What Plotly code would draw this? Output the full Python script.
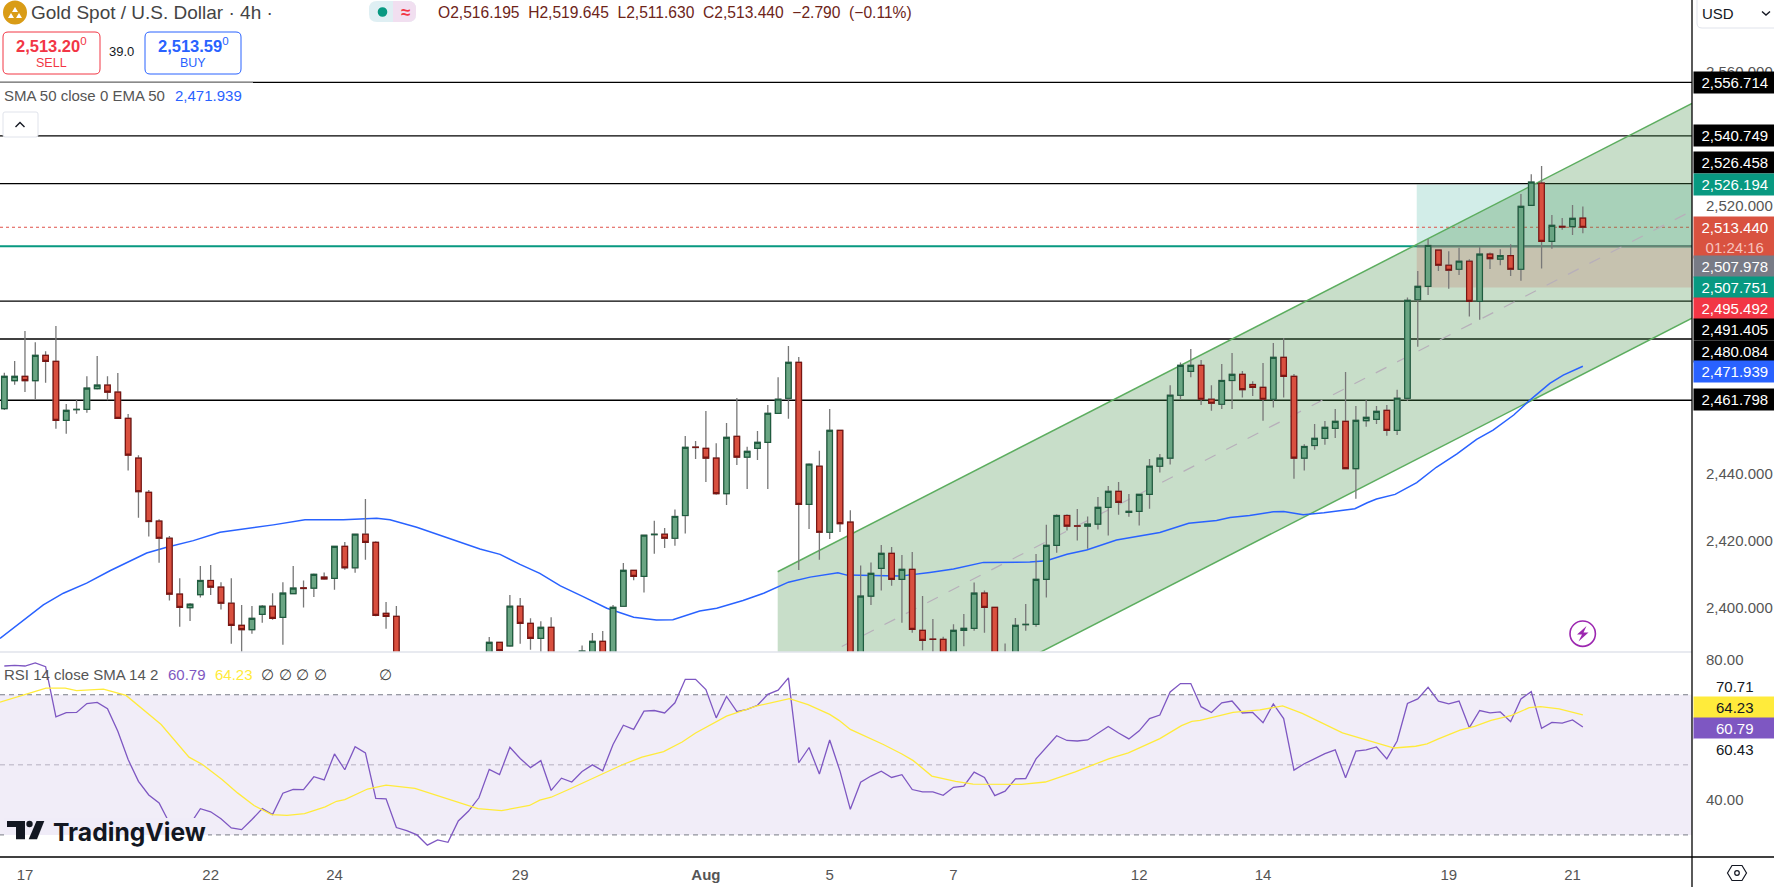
import plotly.graph_objects as go
from plotly.subplots import make_subplots

W, H = 1774, 887
FONT = "Liberation Sans"

opens = [
    2459.3, 2467.65, 2468.9, 2467.65, 2475.2, 2473.4, 2455.8, 2459.0, 2459.1, 2465.3,
    2466.3, 2464.2, 2456.4, 2444.5, 2434.3, 2425.7, 2420.6, 2403.9, 2399.9, 2403.8,
    2408.0, 2406.0, 2401.2, 2394.6, 2393.3, 2397.9, 2400.3, 2397.0, 2404.1, 2405.8,
    2405.7, 2409.0, 2408.6, 2418.2, 2411.8, 2421.8, 2419.4, 2398.2, 2397.3, 2380.0,
    2378.0, 2375.0, 2368.0, 2371.0, 2369.0, 2376.0, 2379.0, 2384.0, 2389.5, 2388.5,
    2400.3, 2395.2, 2390.7, 2394.0, 2384.0, 2380.0, 2385.5, 2383.0, 2389.8, 2384.0,
    2400.3, 2411.0, 2409.2, 2421.7, 2421.8, 2420.6, 2427.4, 2447.8, 2447.45, 2444.5,
    2433.9, 2451.0, 2444.8, 2447.45, 2449.2, 2457.9, 2462.4, 2473.1, 2430.7, 2442.1,
    2422.4, 2452.8, 2425.4, 2378.0, 2403.3, 2411.6, 2416.1, 2408.3, 2411.3, 2393.1,
    2390.5, 2390.4, 2385.0, 2393.1, 2393.7, 2404.2, 2400.0, 2378.0, 2385.0, 2394.8,
    2394.9, 2408.3, 2418.5, 2427.4, 2424.3, 2424.2, 2424.8, 2429.8, 2434.6, 2428.3,
    2428.6, 2433.7, 2442.1, 2444.5, 2463.3, 2470.4, 2472.2, 2462.1, 2460.6, 2467.7,
    2469.5, 2466.5, 2465.65, 2462.1, 2474.6, 2468.9, 2444.5, 2448.3, 2450.4, 2453.4,
    2455.5, 2441.4, 2455.7, 2456.1, 2458.8, 2452.8, 2462.4, 2491.8, 2495.8, 2506.6,
    2502.1, 2500.9, 2503.3, 2491.3, 2505.4, 2503.9, 2505.0, 2500.9, 2520.0, 2526.6,
    2509.2, 2513.7, 2513.6, 2516.195,
]
highs = [
    2470.0, 2473.5, 2482.5, 2479.1, 2476.4, 2484.0, 2460.7, 2462.1, 2469.0, 2475.0,
    2469.0, 2469.9, 2457.7, 2445.4, 2435.0, 2426.3, 2421.3, 2408.7, 2401.3, 2412.3,
    2412.6, 2407.5, 2408.7, 2400.7, 2400.4, 2400.7, 2404.2, 2407.5, 2412.3, 2408.0,
    2410.1, 2410.4, 2418.3, 2419.5, 2422.0, 2432.3, 2419.7, 2401.6, 2400.4, 2384.0,
    2381.0, 2377.0, 2373.0, 2373.0, 2378.0, 2381.0, 2385.0, 2391.1, 2389.6, 2403.7,
    2402.8, 2396.7, 2395.8, 2397.0, 2385.0, 2384.0, 2388.6, 2392.3, 2392.9, 2400.7,
    2413.2, 2411.0, 2421.5, 2425.8, 2423.7, 2429.2, 2451.1, 2449.6, 2458.6, 2449.0,
    2455.0, 2462.5, 2447.9, 2452.6, 2460.4, 2468.7, 2478.0, 2474.7, 2443.0, 2446.7,
    2459.2, 2452.8, 2429.0, 2412.5, 2413.4, 2418.6, 2418.0, 2415.6, 2416.5, 2403.4,
    2396.5, 2391.2, 2394.9, 2398.0, 2407.4, 2405.0, 2400.0, 2389.2, 2396.8, 2401.0,
    2415.9, 2424.6, 2427.8, 2427.8, 2429.3, 2427.1, 2432.9, 2436.2, 2437.4, 2433.8,
    2433.7, 2444.3, 2445.75, 2466.3, 2473.1, 2477.1, 2473.8, 2466.3, 2472.6, 2475.9,
    2470.5, 2467.5, 2472.9, 2478.9, 2480.4, 2469.6, 2448.7, 2454.7, 2455.6, 2459.2,
    2470.2, 2460.1, 2461.9, 2460.1, 2460.4, 2464.9, 2492.5, 2500.4, 2509.9, 2506.6,
    2506.3, 2507.3, 2503.9, 2507.5, 2505.9, 2506.9, 2508.4, 2523.4, 2529.3, 2531.7,
    2517.1, 2516.2, 2520.1, 2519.645,
]
lows = [
    2458.9, 2466.4, 2464.3, 2462.2, 2467.05, 2453.3, 2451.8, 2457.8, 2458.1, 2465.0,
    2461.8, 2456.4, 2440.8, 2426.7, 2421.1, 2413.3, 2402.0, 2394.2, 2395.9, 2402.9,
    2403.7, 2399.3, 2389.1, 2385.5, 2392.1, 2395.4, 2396.3, 2388.8, 2403.9, 2399.9,
    2403.1, 2408.2, 2405.2, 2411.2, 2410.3, 2414.2, 2397.3, 2393.6, 2376.0, 2376.0,
    2372.0, 2366.0, 2366.0, 2367.0, 2368.0, 2374.0, 2378.0, 2382.0, 2386.8, 2388.2,
    2389.1, 2387.3, 2386.0, 2382.0, 2378.0, 2378.0, 2384.0, 2381.0, 2382.0, 2382.0,
    2400.2, 2408.1, 2404.4, 2416.0, 2417.7, 2418.4, 2422.0, 2444.3, 2437.4, 2433.6,
    2430.5, 2442.5, 2435.3, 2444.0, 2435.3, 2457.9, 2456.3, 2411.1, 2423.4, 2414.2,
    2420.4, 2422.5, 2376.0, 2375.0, 2400.7, 2405.0, 2406.4, 2395.4, 2392.4, 2387.2,
    2386.0, 2383.0, 2383.0, 2388.4, 2393.0, 2392.4, 2378.0, 2376.0, 2383.0, 2393.0,
    2394.2, 2402.9, 2416.3, 2422.9, 2419.9, 2417.5, 2423.2, 2421.4, 2427.6, 2427.05,
    2424.4, 2429.4, 2440.2, 2442.6, 2461.9, 2468.7, 2460.4, 2458.7, 2459.2, 2459.2,
    2462.6, 2463.1, 2455.7, 2459.6, 2462.6, 2438.4, 2440.8, 2447.0, 2448.5, 2450.5,
    2441.4, 2432.4, 2453.9, 2454.7, 2451.2, 2451.4, 2461.6, 2477.8, 2493.2, 2500.4,
    2495.1, 2499.2, 2486.8, 2485.8, 2501.0, 2502.1, 2498.9, 2497.5, 2520.0, 2501.1,
    2507.05, 2512.7, 2511.1, 2511.63,
]
closes = [
    2468.9, 2468.9, 2467.65, 2475.2, 2473.4, 2455.8, 2458.8, 2459.1, 2465.4, 2466.3,
    2464.2, 2456.4, 2445.4, 2434.5, 2425.6, 2420.6, 2403.9, 2400.0, 2400.9, 2408.0,
    2406.0, 2401.2, 2394.6, 2393.3, 2396.7, 2400.3, 2396.7, 2404.2, 2405.7, 2405.6,
    2409.8, 2408.5, 2418.2, 2411.8, 2421.8, 2419.4, 2397.6, 2397.3, 2380.0, 2378.0,
    2375.0, 2368.0, 2371.0, 2369.0, 2376.0, 2379.0, 2383.0, 2389.5, 2387.1, 2400.3,
    2395.2, 2390.7, 2394.0, 2384.0, 2380.0, 2383.0, 2386.9, 2389.8, 2384.0, 2400.0,
    2411.0, 2409.2, 2421.5, 2421.8, 2420.6, 2427.1, 2447.75, 2447.7, 2444.5, 2433.9,
    2450.7, 2444.8, 2446.55, 2449.2, 2457.9, 2462.1, 2473.1, 2430.7, 2442.7, 2422.4,
    2452.8, 2425.0, 2378.0, 2403.3, 2410.1, 2416.1, 2408.3, 2411.3, 2393.4, 2390.1,
    2390.4, 2384.0, 2393.1, 2393.7, 2404.2, 2400.0, 2380.0, 2385.0, 2394.6, 2394.9,
    2408.3, 2418.5, 2427.4, 2424.2, 2424.2, 2424.8, 2429.8, 2434.6, 2431.3, 2428.6,
    2433.7, 2442.1, 2444.5, 2463.3, 2472.2, 2472.2, 2462.1, 2460.9, 2467.7, 2469.5,
    2465.0, 2465.65, 2462.1, 2474.6, 2468.9, 2444.5, 2448.0, 2450.4, 2453.7, 2455.5,
    2441.4, 2455.8, 2456.7, 2458.5, 2452.8, 2462.4, 2491.6, 2495.8, 2508.0, 2502.1,
    2500.6, 2503.3, 2491.3, 2505.4, 2504.1, 2505.0, 2500.9, 2519.7, 2526.9, 2509.2,
    2514.0, 2513.5, 2516.1, 2513.44,
]

ema_bars = [
    -0.42, 1.52, 3.78, 5.72, 7.98, 10.24, 12.83, 13.8, 15.74, 18.32, 20.9, 23.49, 26.07, 29.14,
    32.86, 36.09, 37.38, 39.97, 43.2, 46.1, 48.05, 49.98, 51.9, 53.9, 56.1, 58.4, 61.0, 63.2,
    64.8, 67.4, 69.05, 71.6, 73.6, 76.0, 78.1, 80.8, 81.65, 86.8, 89.7, 92.0, 94.9, 99.4,
    101.0, 103.0, 104.9, 107.8, 112.0, 114.8, 117.5, 118.8, 120.7, 123.0, 124.0, 125.9, 127.9,
    129.5, 130.9, 132.1, 133.0, 134.8, 136.9, 138.8, 140.8, 142.7, 144.3, 146.3, 147.9, 149.8,
    151.1, 153,
]
ema_values = [
    2390.7, 2395.2, 2400.7, 2404.2, 2407.2, 2410.9, 2414.9, 2416.2, 2417.9, 2419.9, 2422.4, 2423.4,
    2424.6, 2426.1, 2426.1, 2426.6, 2426.1, 2423.9, 2420.4, 2417.4, 2415.8, 2412.8, 2410.1, 2406.4,
    2403.2, 2399.7, 2397.0, 2396.2, 2396.3, 2398.9, 2399.7, 2402.0, 2404.2, 2407.5, 2409.0, 2410.3,
    2409.6, 2409.3, 2410.4, 2411.4, 2413.4, 2413.5, 2413.9, 2415.8, 2417.1, 2420.1, 2422.3, 2425.1,
    2425.9, 2426.8, 2427.4, 2428.5, 2428.6, 2427.6, 2428.2, 2428.8, 2429.4, 2431.2, 2432.3, 2433.7,
    2437.2, 2441.8, 2445.8, 2450.1, 2452.9, 2457.4, 2461.9, 2466.85, 2469.3, 2471.939,
]

channel_bars = [74.96, 163.58]
channel_upper = [2410.6, 2550.4]
channel_lower = [2346.4, 2486.3]
channel_mid = [2378.5, 2518.35]

level_lines = [2556.714, 2540.749, 2526.458, 2491.405, 2480.084, 2461.798]
entry_price = 2507.751
target_price = 2526.194
stop_price = 2495.492
last_price = 2513.44
position_start = 136.9

rsi_values = [
    78.2, 78.4, 78.2, 79.1, 78.0, 63.7, 64.9, 64.95, 67.5, 67.8,
    66.0, 59.6, 51.5, 45.3, 41.4, 39.1, 33.4, 32.5, 33.0, 37.5,
    36.6, 34.6, 32.0, 31.5, 34.4, 37.5, 35.8, 41.9, 43.0, 42.95,
    46.6, 45.7, 53.1, 48.6, 55.2, 53.4, 40.4, 40.3, 32.1, 31.2,
    30.0, 27.1, 28.6, 27.9, 34.0, 36.8, 40.6, 48.7, 47.2, 55.0,
    51.8, 49.2, 51.2, 42.7, 46.2, 45.1, 48.1, 50.0, 48.3, 55.8,
    61.3, 60.1, 65.3, 65.5, 64.8, 67.7, 74.4, 74.4, 71.5, 63.4,
    69.5, 65.2, 65.8, 67.0, 70.1, 71.3, 74.8, 50.6, 54.95, 47.4,
    57.1, 48.2, 37.3, 45.05, 46.8, 48.2, 46.4, 47.2, 42.95, 42.3,
    42.3, 41.3, 43.6, 43.9, 47.9, 46.4, 41.2, 42.5, 46.0, 46.1,
    51.7, 55.1, 58.3, 56.95, 56.8, 57.1, 59.1, 60.95, 59.1, 57.4,
    59.7, 63.2, 64.2, 70.8, 73.2, 73.2, 66.6, 64.95, 67.7, 68.2,
    64.8, 64.95, 62.0, 67.4, 63.2, 48.5, 50.3, 51.8, 53.2, 54.3,
    46.3, 53.9, 54.3, 55.1, 51.7, 56.8, 67.5, 68.8, 72.1, 68.2,
    67.4, 68.2, 60.6, 65.5, 64.85, 65.1, 62.3, 68.8, 70.9, 60.4,
    62.1, 61.9, 62.8, 60.79,
]
sma_bars = [
    -0.42, 1.8, 4.04, 5.9, 7.0, 9.6, 11.8, 15.2, 17.9, 19.2, 21.1, 22.6, 24.2, 25.9, 27.4, 29.1,
    31.1, 32.2, 33.0, 35.2, 37.0, 39.8, 44.1, 45.9, 48.2, 50.9, 51.9, 53.0, 54.8, 57.1, 59.96,
    61.8, 63.9, 65.7, 67.0, 70.0, 72.95, 76.1, 77.9, 80.0, 80.9, 82.0, 85.2, 87.0, 88.1, 89.9,
    92.2, 93.9, 98.6, 100.9, 103.8, 107.1, 108.95, 112.0, 114.1, 115.1, 115.9, 119.1, 121.7,
    123.9, 125.8, 129.7, 132.6, 134.7, 136.8, 137.9, 139.0, 141.1, 142.5, 144.1, 146.1, 147.8,
    148.9, 150.7, 153,
]
sma_values = [
    67.9, 69.8, 71.9, 71.9, 71.2, 71.6, 69.8, 61.5, 52.2, 50.1, 45.8, 42.0, 38.4, 35.8, 35.6, 36.1,
    38.0, 39.6, 40.1, 43.1, 44.2, 43.3, 39.1, 37.5, 36.95, 38.4, 39.9, 40.75, 43.1, 46.3, 50.1,
    52.2, 53.8, 56.5, 59.1, 63.9, 66.8, 68.9, 67.2, 64.4, 62.7, 60.1, 55.8, 53.1, 51.2, 46.8,
    45.3, 44.5, 44.4, 45.1, 48.0, 51.8, 53.4, 57.5, 61.2, 62.4, 62.7, 64.95, 65.7,
    66.8, 64.7, 59.1, 56.5, 54.8, 55.3, 56.0, 57.4, 59.9, 60.95, 62.7, 64.1, 66.3,
    66.6, 66.0, 64.23,
]
rsi_levels = [70, 50, 30]

time_ticks = [2, 20, 32, 50, 68, 80, 92, 110, 122, 140, 152]
time_labels = ["17", "22", "24", "29", "<b>Aug</b>", "5", "7", "12", "14", "19", "21"]
price_ticks = [2560, 2520, 2440, 2420, 2400]
rsi_ticks = [80, 40]

bars = list(range(len(closes)))
body_high = [max(o, c) for o, c in zip(opens, closes)]
body_low = [min(o, c) for o, c in zip(opens, closes)]
x_range = [-0.42, 163.58]
y_range = [2386.65, 2581.28]

UP_FILL = "#6aa583"
UP_EDGE = "#1f5c3f"
DOWN_FILL = "#d9503f"
DOWN_EDGE = "#7a1512"


def fx(x):
    return x / W


def fy(y):
    return 1 - y / H


fig = make_subplots(rows=2, cols=1, shared_xaxes=True, vertical_spacing=0)

# channel
fig.add_trace(go.Scatter(x=channel_bars, y=channel_lower, mode="lines",
                         line=dict(color="#5cad5f", width=1.5)), row=1, col=1)
fig.add_trace(go.Scatter(x=channel_bars, y=channel_upper, mode="lines", fill="tonexty",
                         fillcolor="rgba(72,145,75,0.3)",
                         line=dict(color="#5cad5f", width=1.5)), row=1, col=1)
fig.add_trace(go.Scatter(x=channel_bars, y=channel_mid, mode="lines",
                         line=dict(color="#b7afba", width=1.2, dash="12px,12px")), row=1, col=1)

fig.add_trace(go.Scatter(x=ema_bars, y=ema_values, mode="lines",
                         line=dict(color="#2962ff", width=1.5)), row=1, col=1)

# candles go on an overlaying axis pair, otherwise the scatter layer paints over them.
# drawn twice: grey wicks first, then bodies with their dark edge
fig.add_trace(go.Candlestick(
    x=bars, open=opens, high=highs, low=lows, close=closes, xaxis="x3", yaxis="y3",
    increasing=dict(line=dict(color="#787878", width=1.3), fillcolor=UP_FILL),
    decreasing=dict(line=dict(color="#787878", width=1.3), fillcolor=DOWN_FILL),
))
fig.add_trace(go.Candlestick(
    x=bars, open=opens, high=body_high, low=body_low, close=closes, xaxis="x3", yaxis="y3",
    increasing=dict(line=dict(color=UP_EDGE, width=1.2), fillcolor=UP_FILL),
    decreasing=dict(line=dict(color=DOWN_EDGE, width=1.2), fillcolor=DOWN_FILL),
))

fig.add_trace(go.Scatter(x=bars, y=rsi_values, mode="lines",
                         line=dict(color="#7e57c2", width=1.3)), row=2, col=1)
fig.add_trace(go.Scatter(x=sma_bars, y=sma_values, mode="lines",
                         line=dict(color="#ffeb3b", width=1.3)), row=2, col=1)

shapes = []


def add_line(x0, y0, x1, y1, color, width=1.0, dash="solid", xref="paper", yref="paper", layer="above"):
    shapes.append(dict(type="line", xref=xref, yref=yref, x0=x0, y0=y0, x1=x1, y1=y1,
                       layer=layer, line=dict(color=color, width=width, dash=dash)))


def add_rect(x0, y0, x1, y1, fill, xref="paper", yref="paper", layer="above"):
    shapes.append(dict(type="rect", xref=xref, yref=yref, x0=x0, y0=y0, x1=x1, y1=y1, layer=layer,
                       fillcolor=fill, line=dict(width=0)))


def add_path(points, fill="rgba(0,0,0,0)", edge=None, width=1.2, close=True):
    path = "M" + " L".join(f"{fx(x)},{fy(y)}" for x, y in points) + (" Z" if close else "")
    shapes.append(dict(type="path", xref="paper", yref="paper", path=path, fillcolor=fill,
                       line=dict(color=edge or fill, width=width if edge else 0)))


def add_round_box(x0, y0, x1, y1, r, fill, edge=None, width=1.0):
    path = (f"M{fx(x0 + r)},{fy(y0)} L{fx(x1 - r)},{fy(y0)} Q{fx(x1)},{fy(y0)} {fx(x1)},{fy(y0 + r)} "
            f"L{fx(x1)},{fy(y1 - r)} Q{fx(x1)},{fy(y1)} {fx(x1 - r)},{fy(y1)} "
            f"L{fx(x0 + r)},{fy(y1)} Q{fx(x0)},{fy(y1)} {fx(x0)},{fy(y1 - r)} "
            f"L{fx(x0)},{fy(y0 + r)} Q{fx(x0)},{fy(y0)} {fx(x0 + r)},{fy(y0)} Z")
    shapes.append(dict(type="path", xref="paper", yref="paper", path=path, fillcolor=fill,
                       line=dict(color=edge or fill, width=width if edge else 0)))


def add_circle(cx, cy, r, fill, edge=None, width=1.2):
    shapes.append(dict(type="circle", xref="paper", yref="paper", fillcolor=fill,
                       line=dict(color=edge or fill, width=width if edge else 0),
                       x0=fx(cx - r), y0=fy(cy + r), x1=fx(cx + r), y1=fy(cy - r)))


# position tool
add_rect(position_start, entry_price, x_range[1], target_price, "rgba(8,153,129,0.18)", xref="x", yref="y", layer="below")
add_rect(position_start, stop_price, x_range[1], entry_price, "rgba(242,54,69,0.2)", xref="x", yref="y", layer="below")

for level in level_lines:
    add_line(x_range[0], level, x_range[1], level, "#000000", 1.3, xref="x", yref="y", layer="below")
add_line(x_range[0], entry_price, x_range[1], entry_price, "#089981", 2, xref="x", yref="y", layer="below")
add_line(position_start, entry_price, x_range[1], entry_price, "#787b86", 2, xref="x", yref="y", layer="below")
add_line(x_range[0], last_price, x_range[1], last_price, "#e0524a", 1, dash="dot", xref="x", yref="y", layer="below")

# rsi band
add_rect(x_range[0], rsi_levels[2], x_range[1], rsi_levels[0], "rgba(126,87,194,0.11)", xref="x2", yref="y2", layer="below")
add_line(x_range[0], rsi_levels[0], x_range[1], rsi_levels[0], "#787b86", 1, dash="5px,4px", xref="x2", yref="y2", layer="below")
add_line(x_range[0], rsi_levels[1], x_range[1], rsi_levels[1], "#b5b0c0", 1, dash="5px,4px", xref="x2", yref="y2", layer="below")
add_line(x_range[0], rsi_levels[2], x_range[1], rsi_levels[2], "#787b86", 1, dash="5px,4px", xref="x2", yref="y2", layer="below")

# frame
add_line(0, fy(652), fx(1692), fy(652), "#e0e3eb", 1.5)
add_line(0, fy(857), 1, fy(857), "#000000", 1.3)
add_line(fx(1692), 0, fx(1692), 1, "#000000", 1.3)
add_line(0, fy(82.3), fx(253), fy(82.3), "#8a8a8a", 1.3)

# logo backing and mark
add_rect(fx(4), fy(835), fx(208), fy(818), "#f0ecf8")
add_rect(fx(4), fy(846), fx(208), fy(835), "#ffffff")
add_path([(7, 821), (25, 821), (25, 839.3), (16, 839.3), (16, 827), (7, 827)], "#131722")
add_circle(29.5, 824, 3.2, "#131722")
add_path([(36.5, 821), (44.3, 821), (37, 839.3), (28.7, 839.3)], "#131722")

# symbol icon
add_circle(15, 12.5, 12, "#d99c16")
add_path([(15, 7), (18, 12), (12, 12)], "#ffffff")
add_path([(11, 13), (14, 18), (8, 18)], "#ffffff")
add_path([(19, 13), (22, 18), (16, 18)], "#ffffff")

# market status pill
add_round_box(369, 1, 416, 22, 8, "#dfeff3")
add_round_box(393, 1, 416, 22, 8, "#f1dff0")
add_rect(fx(393), fy(22), fx(402), fy(1), "#f1dff0")
add_circle(382.5, 12, 4.8, "#089981")

# sell / buy boxes
add_round_box(3, 32, 100, 74, 5, "#ffffff", "#f23645")
add_round_box(145, 32, 241, 74, 5, "#ffffff", "#2962ff")

# collapse button
add_round_box(3, 112, 38, 137, 2, "#ffffff", "#e0e3eb")
add_path([(15.5, 127), (20, 122.5), (24.5, 127)], edge="#131722", width=1.4, close=False)

# usd box
add_round_box(1697, -6, 1784, 28, 5, "#ffffff", "#e0e3eb")
add_path([(1762, 11.5), (1766, 15), (1770, 11.5)], edge="#131722", width=1.4, close=False)

# lightning badge
add_circle(1582.7, 633.7, 12.7, "rgba(255,255,255,0)", "#9c27b0", 1.6)
add_path([(1586.5, 626), (1577, 634.5), (1582, 634.5), (1578.5, 641.5), (1588.5, 632.5), (1583.5, 632.5)], "#9c27b0")

# settings hexagon
add_path([(1727.5, 873), (1732, 865.5), (1742, 865.5), (1746.5, 873), (1742, 880.5), (1732, 880.5)], edge="#131722")
add_circle(1737, 873, 2.3, "rgba(255,255,255,0)", "#131722")

annotations = []


def add_text(text, x, y, size=15, color="#131722", anchor="left", family=FONT):
    annotations.append(dict(text=text, xref="paper", yref="paper", x=fx(x), y=fy(y), xanchor=anchor,
                            yanchor="middle", showarrow=False, font=dict(family=family, size=size, color=color)))


def add_tag(text, y, fill, color="#ffffff", height=21):
    annotations.append(dict(text=text, xref="paper", yref="paper", x=fx(1692.5), y=fy(y), xanchor="left",
                            yanchor="middle", showarrow=False, width=81.5, height=height, align="center",
                            valign="middle", bgcolor=fill, borderpad=0,
                            font=dict(family=FONT, size=15, color=color)))


add_text("Gold Spot / U.S. Dollar · 4h ·", 29, 13, 19, "#444444")
add_text("<b>≈</b>", 405, 12, 17, "#f23645", "center")
add_text("O2,516.195  H2,519.645  L2,511.630  C2,513.440  −2.790  (−0.11%)", 436, 13, 15.6, "#6d2419")
add_text("<b>2,513.20</b><sup>0</sup>", 51, 45, 16.5, "#f23645", "center")
add_text("SELL", 51, 63, 12.5, "#f23645", "center")
add_text("39.0", 122, 52, 13, "#131722", "center")
add_text("<b>2,513.59</b><sup>0</sup>", 193, 45, 16.5, "#2962ff", "center")
add_text("BUY", 193, 63, 12.5, "#2962ff", "center")
add_text("SMA 50 close 0 EMA 50", 1.5, 95, 15, "#555555")
add_text("2,471.939", 172.5, 95, 15, "#2962ff")
add_text("USD", 1700, 14, 15, "#131722")

add_text("RSI 14 close SMA 14 2", 1.5, 674, 15, "#555555")
add_text("60.79", 165.5, 674, 15, "#7e57c2")
add_text("64.23", 212.5, 674, 15, "#ffeb3b")
for mark_x in [267, 285, 302, 320, 385]:
    add_text("∅", mark_x, 674, 15, "#444444", "center")
add_text("<b>TradingView</b>", 51, 832, 24.7, "#131722", family="Inter")

add_tag("2,556.714", 82.3, "#000000")
add_tag("2,540.749", 136, "#000000")
add_tag("2,526.458", 162.7, "#000000")
add_tag("2,526.194", 184, "#089981")
add_tag('2,513.440<br><span style="color:#f7c3bd">01:24:16</span>', 237, "#d95240", height=41)
add_tag("2,507.978", 266, "#787b86")
add_tag("2,507.751", 287.5, "#089981")
add_tag("2,495.492", 308.5, "#f23645")
add_tag("2,491.405", 329.5, "#000000")
add_tag("2,480.084", 351, "#000000")
add_tag("2,471.939", 372, "#2962ff")
add_tag("2,461.798", 400, "#000000")
add_tag("70.71", 686, "#ffffff", "#131722")
add_tag("64.23", 707, "#ffeb3b", "#131722")
add_tag("60.79", 728, "#7e57c2", "#ffffff")
add_tag("60.43", 749, "#ffffff", "#131722")

fig.update_layout(
    width=W,
    height=H,
    margin=dict(l=0, r=0, t=0, b=0, pad=0),
    paper_bgcolor="#ffffff",
    plot_bgcolor="#ffffff",
    showlegend=False,
    boxmode="overlay",
    boxgap=0.24,
    font=dict(family=FONT, size=15, color="#555555"),
    shapes=shapes,
    annotations=annotations,
    xaxis=dict(domain=[0, 1692 / W], range=x_range, showgrid=False, zeroline=False,
               showticklabels=False, ticks="", rangeslider=dict(visible=False)),
    xaxis2=dict(domain=[0, 1692 / W], range=x_range, showgrid=False, zeroline=False,
                tickmode="array", tickvals=time_ticks, ticktext=time_labels, ticks="outside", ticklen=4,
                tickcolor="rgba(0,0,0,0)", tickfont=dict(family=FONT, size=15, color="#555555"),
                rangeslider=dict(visible=False)),
    xaxis3=dict(domain=[0, 1692 / W], range=x_range, overlaying="x", anchor="y3", visible=False,
                rangeslider=dict(visible=False)),
    yaxis=dict(domain=[1 - 652 / H, 1], range=y_range, side="right", showgrid=False, zeroline=False,
               tickmode="array", tickvals=price_ticks, tickformat=",.3f", ticks="outside", ticklen=10,
               tickcolor="rgba(0,0,0,0)", tickfont=dict(family=FONT, size=15, color="#555555")),
    yaxis2=dict(domain=[1 - 857 / H, 1 - 652 / H], range=[23.7, 82.2], side="right", showgrid=False, zeroline=False,
                tickmode="array", tickvals=rsi_ticks, tickformat=".2f", ticks="outside", ticklen=10,
                tickcolor="rgba(0,0,0,0)", tickfont=dict(family=FONT, size=15, color="#555555")),
    yaxis3=dict(domain=[1 - 652 / H, 1], range=y_range, overlaying="y", anchor="x3", side="right", visible=False),
)

fig.write_html("out.html", config=dict(displayModeBar=False), post_script="document.body.style.margin='0';")
